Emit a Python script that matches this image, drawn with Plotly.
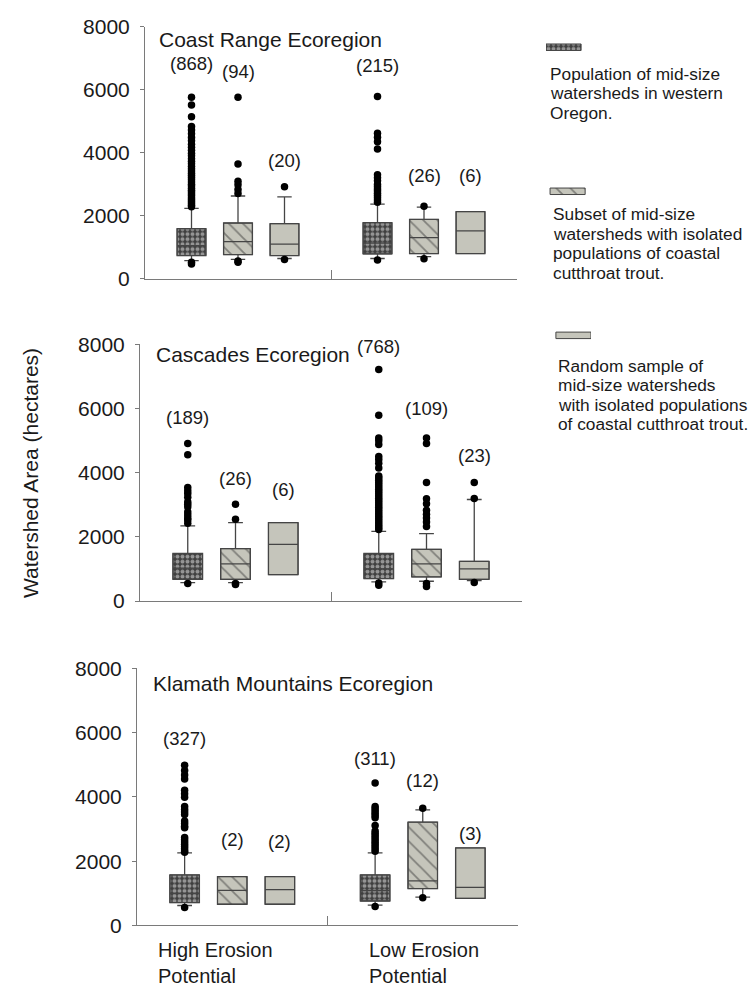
import plotly.graph_objects as go

W, H = 755, 995
FONT = "Liberation Sans, Arial, sans-serif"

# Box slots: High erosion (Population, Subset, Random), Low erosion (Population, Subset, Random)
positions = [0.25, 0.5, 0.75, 1.25, 1.5, 1.75]
series_names = ["Population", "Subset", "Random"]
series_slots = {"Population": [0, 3], "Subset": [1, 4], "Random": [2, 5]}
group_labels = ["High Erosion<br>Potential", "Low Erosion<br>Potential"]
region_titles = ["Coast Range Ecoregion", "Cascades Ecoregion", "Klamath Mountains Ecoregion"]
y_ticks = [0, 2000, 4000, 6000, 8000]

# ---- Coast Range ----
coast_q1 = [735, 765, 735, 785, 797, 797]
coast_med = [1045, 1178, 1095, 1126, 1302, 1519]
coast_q3 = [1590, 1767, 1746, 1778, 1881, 2130]
coast_lo = [575, 615, 640, 640, 700, 797]
coast_hi = [2233, 2625, 2595, 2367, 2270, 2130]
coast_n = [868, 94, 20, 215, 26, 6]
coast_label_y = [6820, 6570, 3750, 6760, 3290, 3290]
coast_out = [
    [5760, 5510, 5140, 4830, 4720, 4600, 4480, 4380, 4270, 4170, 4080, 3980, 3900,
     3810, 3730, 3650, 3570, 3490, 3420, 3350, 3280, 3210, 3140, 3070, 3000, 2940,
     2870, 2810, 2750, 2690, 2630, 2570, 2510, 2450, 2390, 2330, 2280, 520, 470],
    [5760, 3640, 3090, 2985, 2830, 2700, 560, 520],
    [2915, 610],
    [5780, 4620, 4490, 4350, 4120, 3300, 3200, 3110, 2990, 2920, 2850, 2780, 2710,
     2640, 2570, 2500, 2430, 590],
    [2300, 630],
    [],
]

# ---- Cascades ----
casc_q1 = [678, 678, 821, 700, 751, 678]
casc_med = [1025, 1156, 1764, 1004, 1156, 1004]
casc_q3 = [1481, 1633, 2443, 1481, 1612, 1238]
casc_lo = [575, 575, 821, 600, 617, 640]
casc_hi = [2342, 2443, 2443, 2169, 2099, 3163]
casc_n = [189, 26, 6, 768, 109, 23]
casc_label_y = [5720, 3830, 3470, 7940, 5990, 4530]
casc_out = [
    [4907, 4554, 3538, 3437, 3346, 3234, 3081, 3011, 2929, 2777, 2677, 2586, 2525,
     2424, 548],
    [3011, 2546, 548, 517],
    [],
    [7209, 5789, 5080, 4989, 4876, 4502, 4411, 4289, 4146, 3894, 3830, 3760, 3690,
     3620, 3550, 3480, 3410, 3340, 3270, 3200, 3130, 3060, 2990, 2920, 2850, 2780,
     2710, 2640, 2570, 2500, 2430, 2360, 2290, 2230, 560, 496],
    [5080, 4907, 3690, 3185, 3033, 2829, 2707, 2586, 2464, 2321, 548, 456],
    [3690, 3190, 578],
]

# ---- Klamath Mountains ----
klam_q1 = [710, 659, 659, 760, 1146, 842]
klam_med = [1000, 1090, 1115, 1085, 1389, 1186]
klam_q3 = [1572, 1521, 1521, 1572, 3214, 2413]
klam_lo = [620, 659, 659, 630, 880, 842]
klam_hi = [2261, 1521, 1521, 2261, 3600, 2413]
klam_n = [327, 2, 2, 311, 12, 3]
klam_label_y = [5810, 2680, 2620, 5200, 4500, 2860]
klam_out = [
    [4990, 4820, 4680, 4560, 4210, 4100, 3990, 3700, 3610, 3530, 3450, 3250, 3170,
     3090, 3040, 2740, 2670, 2600, 2530, 2460, 2390, 2320, 2280, 560],
    [],
    [],
    [4430, 3700, 3630, 3560, 3490, 3420, 3350, 3110, 2940, 2870, 2800, 2730, 2660,
     2590, 2520, 2450, 2380, 2310, 590],
    [3650, 860],
    [],
]

regions = [
    dict(q1=coast_q1, med=coast_med, q3=coast_q3, lo=coast_lo, hi=coast_hi,
         n=coast_n, label_y=coast_label_y, out=coast_out),
    dict(q1=casc_q1, med=casc_med, q3=casc_q3, lo=casc_lo, hi=casc_hi,
         n=casc_n, label_y=casc_label_y, out=casc_out),
    dict(q1=klam_q1, med=klam_med, q3=klam_q3, lo=klam_lo, hi=klam_hi,
         n=klam_n, label_y=klam_label_y, out=klam_out),
]

legend_lines = [
    ["Population of mid-size", "watersheds in western", "Oregon."],
    ["Subset of mid-size", "watersheds with isolated", "populations of coastal", "cutthroat trout."],
    ["Random sample of", "mid-size watersheds", "with isolated populations", "of coastal cutthroat trout."],
]

# ---- styling ----
GRAY = "#c5c5bb"
EDGE = "#454545"
AXIS = "#7a7a7a"
TEXT = "#1a1a1a"
BOX_W = 0.155


def fill_marker(name):
    if name == "Population":
        pat = dict(shape=".", fgcolor="#ececec", bgcolor="#3f3f3f", size=5, solidity=0.5)
        return dict(color="#3f3f3f", pattern=pat, line=dict(color=EDGE, width=1))
    if name == "Subset":
        pat = dict(shape="\\", fgcolor="#3c3c3c", bgcolor=GRAY, size=10, solidity=0.18)
        return dict(color=GRAY, pattern=pat, line=dict(color=EDGE, width=1))
    return dict(color=GRAY, line=dict(color=EDGE, width=1))


def px_x(p):
    return p / W


def px_y(p):
    return 1 - p / H


# panel frames in pixels: (x_left, x_right, y_top, y_bottom)
frames = [(145, 517, 15, 273), (140, 522, 340, 603), (137, 518, 672, 935)]
title_pos = [(157, 28), (154, 351), (151, 687)]

fig = go.Figure()
annotations = []
layout_axes = {}

for k, (reg, frame) in enumerate(zip(regions, frames)):
    sfx = "" if k == 0 else str(k + 1)
    xref, yref = "x" + sfx, "y" + sfx
    xl, xr, yt, yb = frame
    layout_axes["xaxis" + sfx] = dict(
        domain=[px_x(xl), px_x(xr)], range=[0, 2], anchor=yref,
        showline=True, linecolor=AXIS, linewidth=1, tickvals=[1], ticks="inside",
        ticklen=9, tickcolor=AXIS, showticklabels=False, showgrid=False, zeroline=False,
        fixedrange=True,
    )
    layout_axes["yaxis" + sfx] = dict(
        domain=[px_y(yb), px_y(yt)], range=[0, 8000], anchor=xref,
        showline=True, linecolor=AXIS, linewidth=1, tickvals=y_ticks, ticks="outside",
        ticklen=4, tickcolor=AXIS, showgrid=False, zeroline=False,
        tickfont=dict(family=FONT, size=21, color=TEXT), ticklabelstandoff=6,
        fixedrange=True,
    )

    for name in series_names:
        idx = series_slots[name]
        xs = [positions[i] for i in idx]
        fig.add_trace(go.Bar(
            x=xs, base=[reg["q1"][i] for i in idx],
            y=[reg["q3"][i] - reg["q1"][i] for i in idx],
            width=BOX_W, marker=fill_marker(name), xaxis=xref, yaxis=yref,
            showlegend=False, hoverinfo="skip",
        ))
        fig.add_trace(go.Box(
            x=xs, q1=[reg["q1"][i] for i in idx], median=[reg["med"][i] for i in idx],
            q3=[reg["q3"][i] for i in idx], lowerfence=[reg["lo"][i] for i in idx],
            upperfence=[reg["hi"][i] for i in idx], width=BOX_W, whiskerwidth=0.5,
            fillcolor="rgba(0,0,0,0)", line=dict(color=EDGE, width=1.3),
            boxpoints=False, xaxis=xref, yaxis=yref, showlegend=False, hoverinfo="skip",
        ))

    ox, oy = [], []
    for i, vals in enumerate(reg["out"]):
        ox += [positions[i]] * len(vals)
        oy += vals
    fig.add_trace(go.Scatter(
        x=ox, y=oy, mode="markers", marker=dict(color="black", size=7.5),
        xaxis=xref, yaxis=yref, showlegend=False, hoverinfo="skip",
    ))

    for i in range(6):
        annotations.append(dict(
            x=positions[i], y=reg["label_y"][i], xref=xref, yref=yref,
            xanchor="center", yanchor="middle",
            text=f"({reg['n'][i]})", showarrow=False,
            font=dict(family=FONT, size=18.5, color=TEXT),
        ))

    tx, ty = title_pos[k]
    annotations.append(dict(
        x=px_x(tx), y=px_y(ty), xref="paper", yref="paper", xanchor="left",
        yanchor="middle", text=region_titles[k], showarrow=False,
        font=dict(family=FONT, size=21, color=TEXT),
    ))

# Erosion group labels under the bottom panel
for lx, lab in zip([156, 367], group_labels):
    annotations.append(dict(
        x=px_x(lx), y=px_y(947), xref="paper", yref="paper", xanchor="left",
        yanchor="top", align="left", text=lab, showarrow=False,
        font=dict(family=FONT, size=20, color=TEXT),
    ))

# Shared y-axis title
annotations.append(dict(
    x=px_x(30), y=px_y(472), xref="paper", yref="paper", textangle=-90,
    xanchor="center", yanchor="middle",
    text="Watershed Area (hectares)", showarrow=False,
    font=dict(family=FONT, size=21, color=TEXT),
))

# Key: pattern swatches on a small hidden axis, text lines beneath each swatch
layout_axes["xaxis4"] = dict(domain=[px_x(546), px_x(591)], range=[0, 1], anchor="y4",
                             visible=False, fixedrange=True)
layout_axes["yaxis4"] = dict(domain=[px_y(345), px_y(25)], range=[2.095, -0.075],
                             anchor="x4", visible=False, fixedrange=True)
swatch_base = [0.0, 0.09, 0.22]
for j, name in enumerate(series_names):
    fig.add_trace(go.Bar(
        y=[j], x=[0.78], base=[swatch_base[j]], orientation="h", width=0.045,
        marker=fill_marker(name), xaxis="x4", yaxis="y4", showlegend=False,
        hoverinfo="skip",
    ))

legend_x = [548, 551, 556]
legend_y0 = [63, 207, 362]
for j, lines in enumerate(legend_lines):
    for r, line in enumerate(lines):
        annotations.append(dict(
            x=px_x(legend_x[j]), y=px_y(legend_y0[j] + 20 * r), xref="paper", yref="paper",
            xanchor="left", yanchor="middle", text=line, showarrow=False,
            font=dict(family=FONT, size=17.3, color=TEXT),
        ))

fig.update_layout(
    width=W, height=H, margin=dict(l=0, r=0, t=0, b=0),
    paper_bgcolor="white", plot_bgcolor="white",
    barmode="overlay", boxmode="overlay", showlegend=False,
    annotations=annotations, font=dict(family=FONT, color=TEXT),
    **layout_axes,
)

fig.write_html("out.html")
